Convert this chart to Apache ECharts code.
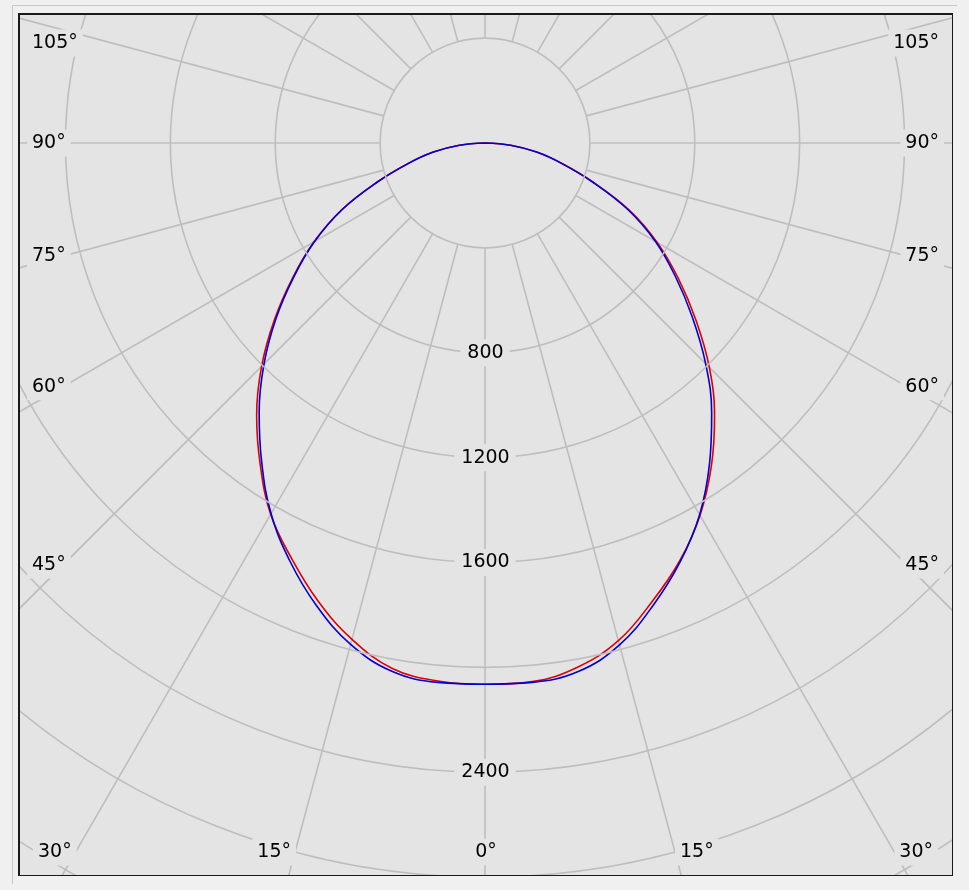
<!DOCTYPE html>
<html>
<head>
<meta charset="utf-8">
<script src="https://cdn.jsdelivr.net/npm/echarts@6/dist/echarts.min.js"></script>
<style>
html,body{margin:0;padding:0;background:#f0f0f0;width:969px;height:890px;overflow:hidden;}
#frame{position:absolute;left:12px;top:5px;width:944px;height:878px;border-left:1px solid #c8c8c8;border-top:1px solid #c8c8c8;}
#box{position:absolute;left:18px;top:13px;width:932px;height:860px;border-style:solid;border-color:#1a1a1a;border-width:2px 1px 1px 2px;overflow:hidden;}
#chart{width:932px;height:860px;}
</style>
</head>
<body>
<div id="frame"></div>
<div id="box"><div id="chart"></div></div>
<script>
// Gamma angles (degrees from nadir) and luminous intensity (cd) for both halves of each plane
const gammaDeg   = [0,5,10,15,20,25,30,35,40,45,50,55,60,65,70,75,80,85,90];
const redLeft    = [2064,2060,2035,1960,1860,1747,1635,1495,1355,1205,1048,895,752,603,440,305,200,98,0];
const redRight   = [2064,2062,2030,1965,1862,1758,1640,1505,1362,1210,1050,900,758,608,442,306,200,98,0];
const blueLeft   = [2064,2065,2046,1980,1878,1760,1632,1485,1340,1192,1040,890,750,602,438,304,200,98,0];
const blueRight  = [2064,2065,2047,1982,1876,1762,1637,1493,1345,1190,1032,886,750,602,438,304,200,98,0];

// Radius ticks and which get printed labels
const radiusMin = 400, radiusMax = 3600, radiusStep = 400;
const radiusLabels = [800, 1200, 1600, 2400];
// Angle labels around the frame
const sideAngles = [105, 90, 75, 60, 45];
const bottomAngles = [30, 15, 0];

const W = 932, H = 860;
const cx = 465, cy = 128;            // lamp position inside the plot
const pxPerCd = 0.2622;
const bg = '#e4e4e4';
const gridColor = '#bebebe';
const font = '19px "DejaVu Sans"';
const pad = [4, 5, 4, 5];

function buildCurve(left, right) {
  const pts = [];
  for (let i = gammaDeg.length - 1; i >= 0; i--) pts.push([left[i], gammaDeg[i]]);
  for (let i = 1; i < gammaDeg.length; i++) pts.push([right[i], 360 - gammaDeg[i]]);
  return pts;
}

function label(txt, x, y, align) {
  return {type:'text', z:10, style:{text:txt, x:x, y:y, align:align, verticalAlign:'middle', font:font, fill:'#000', backgroundColor:bg, padding:pad}};
}

// angle labels placed along the frame edges
const graphics = [];
const sideInset = 43;
sideAngles.forEach(function (g) {
  const D = cx - sideInset;
  let y = cy + D / Math.tan(g * Math.PI / 180);
  y = Math.max(y, 28);
  const txt = g + '°';
  graphics.push(label(txt, 7, y, 'left'));
  graphics.push(label(txt, W - 8, y, 'right'));
});
const bottomY = 837;
bottomAngles.forEach(function (g) {
  const txt = g + '°';
  const dx = (bottomY - cy) * Math.tan(g * Math.PI / 180);
  if (g === 0) {
    graphics.push(label(txt, cx + 1, bottomY, 'center'));
  } else {
    graphics.push(label(txt, cx - dx + 1, bottomY, 'right'));
    graphics.push(label(txt, cx + dx, bottomY, 'left'));
  }
});

const chart = echarts.init(document.getElementById('chart'), null, {renderer:'canvas'});
chart.setOption({
  backgroundColor: bg,
  animation: false,
  polar: [
    { center: [cx, cy], radius: [radiusMin * pxPerCd, radiusMax * pxPerCd] },   // grid rings start at 400 cd
    { center: [cx, cy], radius: [0, radiusMax * pxPerCd] }                        // data, from 0 cd
  ],
  angleAxis: [
    {
      polarIndex: 0, type: 'value', min: 0, max: 360, interval: 15, startAngle: 270, clockwise: true,
      axisLine: {show:false}, axisTick: {show:false}, axisLabel: {show:false},
      splitLine: {show:true, lineStyle:{color:gridColor, width:1.6}}
    },
    {
      polarIndex: 1, type: 'value', min: 0, max: 360, interval: 15, startAngle: 270, clockwise: true,
      axisLine: {show:false}, axisTick: {show:false}, axisLabel: {show:false}, splitLine: {show:false}
    }
  ],
  radiusAxis: [
    {
      polarIndex: 0, type: 'value', min: radiusMin, max: radiusMax, interval: radiusStep, z: 5,
      axisLine: {show:false}, axisTick: {show:false},
      axisLabel: {
        show: true, margin: 0, align: 'center', verticalAlign: 'middle',
        formatter: function (v) { return radiusLabels.indexOf(v) >= 0 ? '{a|' + v + '}' : ''; },
        rich: { a: { fontSize: 19, fontFamily: 'DejaVu Sans', color: '#000', backgroundColor: bg, padding: [4, 6, 4, 7], align:'center' } }
      },
      splitLine: {show:true, lineStyle:{color:gridColor, width:1.6}}
    },
    {
      polarIndex: 1, type: 'value', min: 0, max: radiusMax, interval: radiusStep,
      axisLine: {show:false}, axisTick: {show:false}, axisLabel: {show:false}, splitLine: {show:false}
    }
  ],
  graphic: graphics,
  series: [
    { type:'line', coordinateSystem:'polar', polarIndex:1, data: buildCurve(redLeft, redRight), smooth:0.4, showSymbol:false, symbol:'none', clip:false, z:3,
      lineStyle:{color:'#e00000', width:1.6} },
    { type:'line', coordinateSystem:'polar', polarIndex:1, data: buildCurve(blueLeft, blueRight), smooth:0.4, showSymbol:false, symbol:'none', clip:false, z:4,
      lineStyle:{color:'#0000d8', width:1.6} }
  ]
});
</script>
</body>
</html>
